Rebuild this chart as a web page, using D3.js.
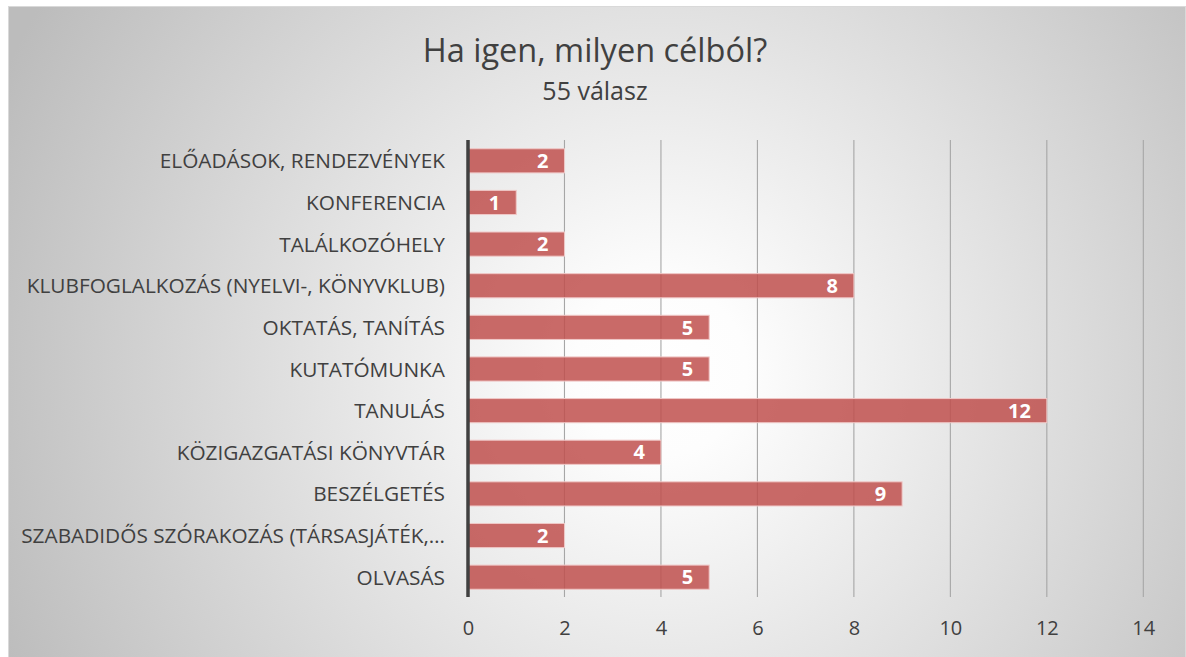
<!DOCTYPE html>
<html><head><meta charset="utf-8">
<script src="https://cdn.jsdelivr.net/npm/d3@7"></script>
<style>body{margin:0;background:#fff}svg{display:block}</style>
</head><body>
<svg id="c" width="1186" height="657"></svg>
<script>
const categories = ["ELŐADÁSOK, RENDEZVÉNYEK","KONFERENCIA","TALÁLKOZÓHELY","KLUBFOGLALKOZÁS (NYELVI-, KÖNYVKLUB)","OKTATÁS, TANÍTÁS","KUTATÓMUNKA","TANULÁS","KÖZIGAZGATÁSI KÖNYVTÁR","BESZÉLGETÉS","SZABADIDŐS SZÓRAKOZÁS (TÁRSASJÁTÉK,…","OLVASÁS"];
const values = [2,1,2,8,5,5,12,4,9,2,5];
const tickValues = [0,2,4,6,8,10,12,14];
const title = "Ha igen, milyen célból?";
const subtitle = "55 válasz";

const svg = d3.select("#c");
const font = "'Open Sans', sans-serif";
const defs = svg.append("defs");
const rg = defs.append("radialGradient").attr("id","bg").attr("gradientUnits","userSpaceOnUse")
  .attr("cx",660).attr("cy",370).attr("r",720);
rg.append("stop").attr("offset","0").attr("stop-color","#ffffff");
rg.append("stop").attr("offset","0.12").attr("stop-color","#fdfdfd");
rg.append("stop").attr("offset","1").attr("stop-color","#bcbcbc");

svg.append("rect").attr("x",8.5).attr("y",6.5).attr("width",1177).attr("height",652)
  .attr("fill","url(#bg)").attr("stroke","#d9d9d9").attr("stroke-width",1);

const x = d3.scaleLinear().domain([0,14]).range([468,1143.3]);
const y = d3.scaleBand().domain(categories).range([140,598]).paddingInner(0.42).paddingOuter(0.21);

const g = svg.append("g");
g.selectAll("line.grid").data(tickValues.filter(d=>d>0)).join("line")
  .attr("x1",d=>x(d)).attr("x2",d=>x(d)).attr("y1",140).attr("y2",597)
  .attr("stroke","#a6a6a6").attr("stroke-width",1.1);

g.selectAll("rect.bar").data(values).join("rect")
  .attr("x",x(0)).attr("y",(d,i)=>y(categories[i]))
  .attr("width",d=>x(d)-x(0)).attr("height",y.bandwidth())
  .attr("fill","#c0504d").attr("fill-opacity",0.85)
  .attr("stroke","#f0c8c7").attr("stroke-width",1);

g.selectAll("text.val").data(values).join("text")
  .attr("x",d=>x(d)-16).attr("y",(d,i)=>y(categories[i])+y.bandwidth()/2)
  .attr("dy","0.36em").attr("text-anchor","end")
  .attr("font-family",font).attr("font-weight","bold").attr("font-size",20)
  .attr("fill","#ffffff").text(d=>d);

svg.append("line").attr("x1",x(0)).attr("x2",x(0)).attr("y1",140).attr("y2",597)
  .attr("stroke","#404040").attr("stroke-width",3.5);

const xAxis = d3.axisBottom(x).tickValues(tickValues).tickSize(0).tickPadding(0);
const ax = svg.append("g").attr("transform","translate(0,621)").call(xAxis);
ax.select(".domain").remove();
ax.selectAll("text").attr("font-family",font).attr("font-size",20).attr("fill","#404040").attr("dy","0.36em").attr("y",7);

const yAxis = d3.axisLeft(y).tickSize(0).tickPadding(0);
const ay = svg.append("g").attr("transform","translate(445,0)").call(yAxis);
ay.select(".domain").remove();
ay.selectAll("text").attr("font-family",font).attr("font-size",20.8).attr("fill","#404040").attr("dy","0.36em");

svg.append("text").attr("x",595).attr("y",62).attr("text-anchor","middle")
  .attr("font-family",font).attr("font-size",32.5).attr("fill","#404040").text(title);
svg.append("text").attr("x",595).attr("y",100).attr("text-anchor","middle")
  .attr("font-family",font).attr("font-size",25).attr("fill","#404040").text(subtitle);
</script>
</body></html>
